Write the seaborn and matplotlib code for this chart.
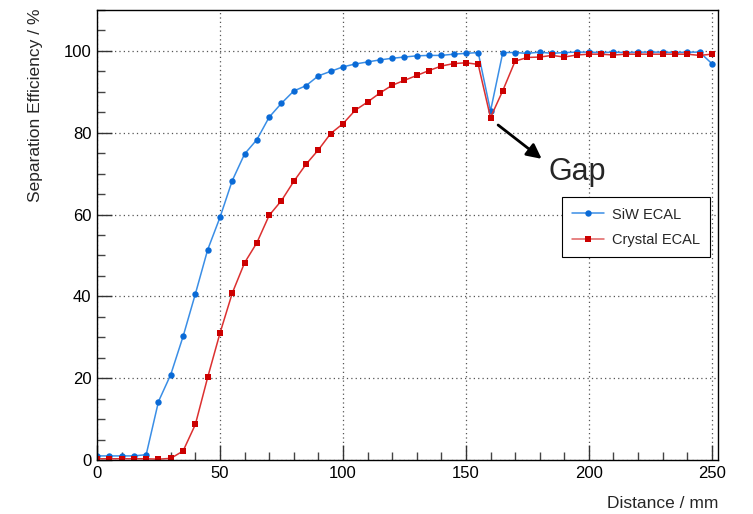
import matplotlib
matplotlib.use("Agg")
import matplotlib.pyplot as plt
from matplotlib.ticker import MultipleLocator
from matplotlib.lines import Line2D
import seaborn as sns
import pandas as pd

distance = list(range(0, 255, 5))
siw = [1.0, 1.0, 1.0, 1.0, 1.3, 14.3, 20.9, 30.2, 40.6, 51.4, 59.3, 68.3, 74.8, 78.3, 83.8,
       87.2, 90.2, 91.5, 93.9, 95.0, 96.1, 96.8, 97.3, 97.8, 98.2, 98.5, 98.8, 98.9, 98.9, 99.2,
       99.4, 99.6, 85.3, 99.6, 99.6, 99.4, 99.7, 99.4, 99.6, 99.7, 99.7, 99.6, 99.7, 99.6, 99.7,
       99.7, 99.7, 99.6, 99.7, 99.7, 96.9]
crystal = [0.3, 0.3, 0.3, 0.3, 0.3, 0.2, 0.4, 2.2, 8.7, 20.2, 31.0, 40.8, 48.2, 53.1, 59.8,
           63.4, 68.1, 72.3, 75.8, 79.8, 82.2, 85.5, 87.5, 89.7, 91.6, 92.8, 94.0, 95.2, 96.3, 96.9,
           97.1, 96.7, 83.7, 90.3, 97.5, 98.4, 98.5, 98.9, 98.5, 99.0, 99.2, 99.2, 99.0, 99.2, 99.2,
           99.2, 99.2, 99.2, 99.2, 98.9, 99.2]
labels = ["SiW ECAL", "Crystal ECAL"]

df = pd.DataFrame({
    "Distance": distance * 2,
    "Eff": siw + crystal,
    "Detector": [labels[0]] * len(distance) + [labels[1]] * len(distance),
})

sns.set_style("white")
plt.rcParams["font.family"] = ["Liberation Sans", "DejaVu Sans"]

fig = plt.figure(figsize=(7.53, 5.14), dpi=100)
ax = fig.add_axes([97 / 753, 1 - 460 / 514, (718 - 97) / 753, (460 - 10) / 514])

palette = {labels[0]: "#3a8ee6", labels[1]: "#dc3030"}
sns.lineplot(data=df, x="Distance", y="Eff", hue="Detector", style="Detector",
             markers={labels[0]: "o", labels[1]: "s"}, dashes=False,
             palette=palette, ax=ax, linewidth=1.1, markersize=4.6,
             markeredgewidth=0, legend=False)
for line, mc in zip(ax.lines, ["#0a6ad6", "#cc0000"]):
    line.set_markerfacecolor(mc)
    line.set_markeredgecolor(mc)

ax.set_xlim(0, 252.5)
ax.set_ylim(0, 110)
ax.xaxis.set_major_locator(MultipleLocator(50))
ax.xaxis.set_minor_locator(MultipleLocator(10))
ax.yaxis.set_major_locator(MultipleLocator(20))
ax.yaxis.set_minor_locator(MultipleLocator(5))
ax.tick_params(which="both", bottom=True, left=True, top=False, right=False)
ax.tick_params(which="major", direction="in", length=11, width=1, color="#333333",
               labelsize=12, pad=4, labelcolor="black")
ax.tick_params(which="minor", direction="in", length=6, width=1, color="#444444")
ax.grid(True, which="major", linestyle=(0, (1, 2.5)), color="#555555", linewidth=0.9)
for s in ax.spines.values():
    s.set_color("black")
    s.set_linewidth(1.0)

ax.set_xlabel("")
ax.set_ylabel("")
fig.text(718 / 753, 1 - 503 / 514, "Distance / mm", ha="right", va="center", fontsize=12.5)
fig.text(36 / 753, 1 - 9 / 514, "Separation Efficiency / %", ha="center", va="top",
         rotation=90, fontsize=12.5)

handles = [Line2D([], [], color="#3a8ee6", marker="o", markersize=4.6, markerfacecolor="#0a6ad6",
                  markeredgewidth=0, linewidth=1.1),
           Line2D([], [], color="#e06060", marker="s", markersize=4.6, markerfacecolor="#cc0000",
                  markeredgewidth=0, linewidth=1.1)]
leg = ax.legend(handles, labels, loc="center", bbox_to_anchor=(0.868, 0.517), fontsize=10.5,
                frameon=True, fancybox=False, edgecolor="black", framealpha=1,
                handlelength=2.2, borderpad=0.7, labelspacing=0.8, handletextpad=0.5)
leg.get_frame().set_linewidth(0.8)

ax.annotate("", xy=(181.7, 73.2), xytext=(162.2, 82.3),
            arrowprops=dict(arrowstyle="-|>", color="black", lw=2, mutation_scale=22))
ax.text(183.5, 70.5, "Gap", fontsize=22, ha="left", va="center")

fig.savefig("out.png", dpi=100)
